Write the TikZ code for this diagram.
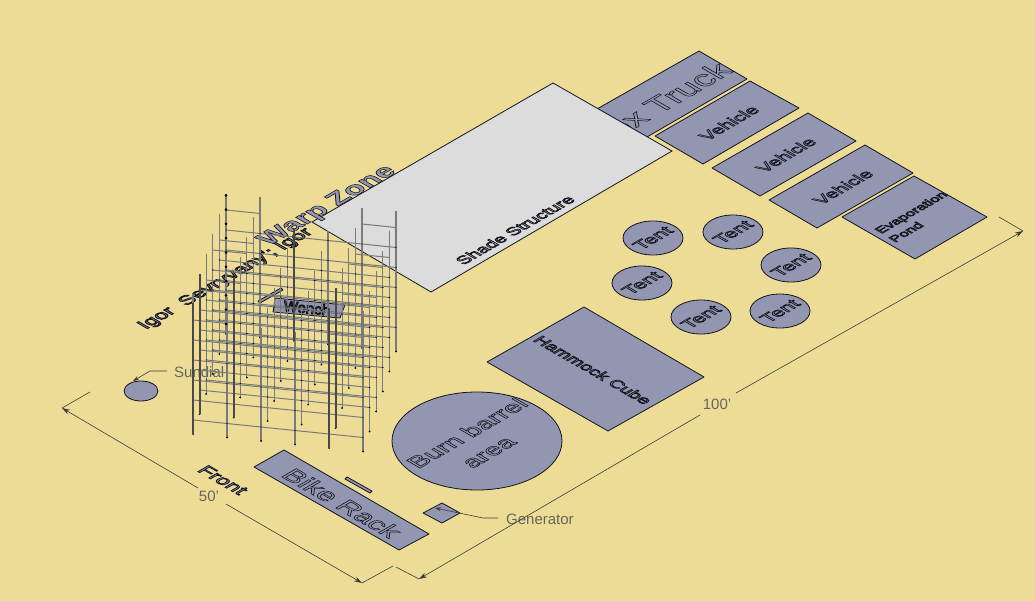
\documentclass[tikz,border=0pt]{standalone}
\usepackage{fontspec}
\setmainfont{Liberation Sans}
\usetikzlibrary{arrows.meta}
\definecolor{sand}{HTML}{EDDC96}
\definecolor{zoneblue}{HTML}{9396B0}
\definecolor{shadegrey}{HTML}{DCDCDC}
\definecolor{inkdark}{HTML}{14141E}
\definecolor{dimgrey}{HTML}{3C3C3C}
\definecolor{labelgrey}{HTML}{66665C}
\definecolor{polegrey}{HTML}{7A7A7A}
% outlined letters: stroke only, or stroke and fill
\newcommand{\hollow}[2]{\special{pdf:code 0.08 0.08 0.12 RG #1 w 1 Tr}#2\special{pdf:code 0 Tr 1 w}}
\newcommand{\filled}[2]{\special{pdf:code 0.08 0.08 0.12 RG 0.576 0.588 0.69 rg #1 w 2 Tr}#2\special{pdf:code 0 Tr 1 w}}
\newcommand{\fsize}[1]{\fontsize{#1}{#1}\selectfont}
\tikzset{
	zone/.style={draw=inkdark,fill=zoneblue,line width=.8pt,line join=round},
	isoup/.style={transform shape,cm={.866,.5,-.75,.43,(0,0)},align=center,inner sep=0pt},
	isodown/.style={transform shape,cm={.866,-.5,.75,.43,(0,0)},align=center,inner sep=0pt},
	dimline/.style={draw=dimgrey,line width=.6pt},
	dimtip/.style={dimline,-{Stealth[length=8pt,width=5pt]}},
	leader/.style={dimline,{Stealth[length=6pt,width=4pt]}-},
	dimtext/.style={text=labelgrey,font=\fontsize{15}{18}\selectfont,inner sep=0pt},
	rail/.style={draw=polegrey,line width=1pt},
	pole/.style={draw=polegrey,line width=1.2pt},
	thickpole/.style={draw=polegrey!60!black,line width=1.8pt},
	declare function={sx(\i,\j)=193+34*\i+6.6*\j; sy(\i,\j,\h)=434+3.5*\i-20*\j-\h;}
}
\begin{document}
\begin{tikzpicture}[x=1pt,y=-1pt]
	\fill[sand] (0,0) rectangle (1035,601);
	\useasboundingbox (0,0) rectangle (1035,601);

	% back row of vehicles
	\draw[zone] (699,51) -- (747,79) -- (647,137) -- (597,109) -- cycle;
	\node[isoup,font=\fsize{35}] (truck) at (657,105) {\hollow{.7}{Box Truck}};
	\draw[zone] (750,81) -- (799,108) -- (703,164) -- (655,136) -- cycle;
	\draw[zone] (808,113) -- (856,141) -- (760,196) -- (712,168) -- cycle;
	\draw[zone] (865,145) -- (913,173) -- (817,228) -- (769,200) -- cycle;
	\draw[zone] (914,176) -- (987,217) -- (915,259) -- (842,217) -- cycle;
	\node[isoup,font=\fsize{19}] (veh1) at (729,123) {\hollow{.8}{Vehicle}};
	\node[isoup,font=\fsize{19}] (veh2) at (786,155) {\hollow{.8}{Vehicle}};
	\node[isoup,font=\fsize{19}] (veh3) at (843,187) {\hollow{.8}{Vehicle}};
	\node[isoup,font=\fsize{14.5}] (evap) at (912,213) {\hollow{.8}{Evaporation}};
	\node[isoup,font=\fsize{14.5}] (pond) at (906,232) {\hollow{.8}{Pond}};

	% shade
	\draw[fill=shadegrey,draw=inkdark,line width=.8pt] (553,83) -- (672,151) -- (431,292) -- (312,222) -- cycle;
	\node[isoup,font=\fsize{18}] (shade) at (515,230) {\hollow{.9}{Shade Structure}};

	% tents
	\foreach \x/\y/\n in {653/238/a,733/232/b,791/265/c,642/283/d,701/317/e,780/311/f}
	{
		\draw[zone] (\x,\y) ellipse [x radius=30,y radius=17];
		\node[isoup,font=\fsize{20}] (tent\n) at (\x,\y) {\hollow{.8}{Tent}};
	}

	\draw[zone] (584,307) -- (704,377) -- (608,431) -- (487,362) -- cycle;
	\node[isodown,font=\fsize{18}] (hammock) at (593,370) {\hollow{.9}{Hammock Cube}};
	\draw[zone] (477,441) ellipse [x radius=85,y radius=49];
	\node[isoup,font=\fsize{26}] (burn) at (467,433) {\hollow{.7}{Burn barrel}};
	\node[isoup,font=\fsize{26}] (burnb) at (490,453) {\hollow{.7}{area}};
	\draw[zone] (284,450) -- (429,534) -- (399,550) -- (254,467) -- cycle;
	\node[isodown,font=\fsize{28}] (bike) at (342,503) {\hollow{.7}{Bike Rack}};
	\draw[zone] (347,477) -- (372,491) -- (370,493) -- (345,479) -- cycle;
	\node[isodown,font=\fsize{21}] (front) at (223,480) {\filled{.9}{Front}};

	% left side labels
	\node[isoup,font=\fsize{29}\bfseries] (warp) at (328,206) {\filled{.7}{Warp Zone}};
	\node[isoup,font=\fsize{20.5}] (igor) at (226,279) {\filled{1}{Igor\ \ Sevryvany'; Igor}};
	\draw[zone] (258,301) -- (281,288) -- (283,290) -- (260,303) -- cycle;
	\draw[zone] (275,298) -- (345,305) -- (340,318) -- (273,312) -- cycle;
	\node[transform shape,cm={1,-.1,.1,1,(0,0)},inner sep=0pt,font=\fsize{15}] (wench) at (307,308) {\hollow{.9}{Wench}};

	% leaders and dimensions
	\draw[zone] (141,391) ellipse [x radius=17,y radius=10];
	\draw[zone] (423,513) -- (442,503) -- (460,513) -- (442,523) -- cycle;
	\node[dimtext,anchor=west] (sundial) at (174,372) {Sundial};
	\node[dimtext,anchor=west] (generator) at (506,519) {Generator};
	\node[dimtext] (dimfifty) at (209,496) {50'};
	\node[dimtext] (dimhundred) at (717,404) {100'};
	\coordinate (sunpt) at (133,381);
	\coordinate (sunbend) at (150,371);
	\coordinate (sunend) at (167,371);
	\coordinate (genpt) at (435,508);
	\coordinate (genbend) at (483,518);
	\coordinate (genend) at (498,518);
	\coordinate (fa) at (62,408);
	\coordinate (fb) at (362,583);
	\coordinate (hb) at (419,579);
	\coordinate (hc) at (1023,231);
	\draw[leader] (sunpt) -- (sunbend) -- (sunend);
	\draw[leader] (genpt) -- (genbend) -- (genend);
	\draw[dimline] (90,392) -- (fa);
	\draw[dimtip] (dimfifty) ++(-11,-8) -- (fa);
	\draw[dimtip] (dimfifty) ++(17,8) -- (fb);
	\draw[dimline] (fb) -- (393,566);
	\draw[dimline] (396,567) -- (hb);
	\draw[dimtip] (dimhundred) ++(-17,11) -- (hb);
	\draw[dimtip] (dimhundred) ++(19,-11) -- (hc);
	\draw[dimline] (999,217) -- (hc);

	% scaffold
	\foreach \j/\o in {5/10,4/0,3/10,2/0,1/10,0/0}
	{
		\foreach \L in {14,34,54,74,94}
			\draw[rail] ({sx(0,\j)},{sy(0,\j,\L+\o)}) -- ({sx(5,\j)},{sy(5,\j,\L+\o)});
		\foreach \L in {114}
		{
			\draw[rail] ({sx(0,\j)},{sy(0,\j,\L+\o)}) -- ({sx(1,\j)},{sy(1,\j,\L+\o)});
			\draw[rail] ({sx(4,\j)},{sy(4,\j,\L+\o)}) -- ({sx(5,\j)},{sy(5,\j,\L+\o)});
		}
		\foreach \i/\h in {0/140,1/140,2/113,3/113,4/140,5/140}
		{
			\draw[pole] ({sx(\i,\j)},{sy(\i,\j,0)}) -- ({sx(\i,\j)},{sy(\i,\j,\h)});
			\fill[black] ({sx(\i,\j)},{sy(\i,\j,0)}) circle (1);
			\foreach \L in {14,34,54,74,94}
				\fill[black] ({sx(\i,\j)},{sy(\i,\j,\L+\o)}) circle (.7);
		}
	}
	\foreach \i/\h in {0/140,1/140,2/105,3/105,4/140,5/140}
		\foreach \j [evaluate=\j as \k using int(\j+1)] in {0,...,4}
			\foreach \L in {20,50,80,\h}
				\draw[rail] ({sx(\i,\j)},{sy(\i,\j,\L)}) -- ({sx(\i,\k)},{sy(\i,\k,\L)});
	\foreach \i/\j/\h in {0/0/131,0/1/140,1/1/140,2/5/113,4/0/140,4/1/140}
		\draw[thickpole] ({sx(\i,\j)},{sy(\i,\j,0)}) -- ({sx(\i,\j)},{sy(\i,\j,\h)});
	\foreach \L in {0,...,9}
		\fill[black] ({sx(0,5)},{sy(0,5,\L*14.3+10)}) circle (1.5);
\end{tikzpicture}
\end{document}
